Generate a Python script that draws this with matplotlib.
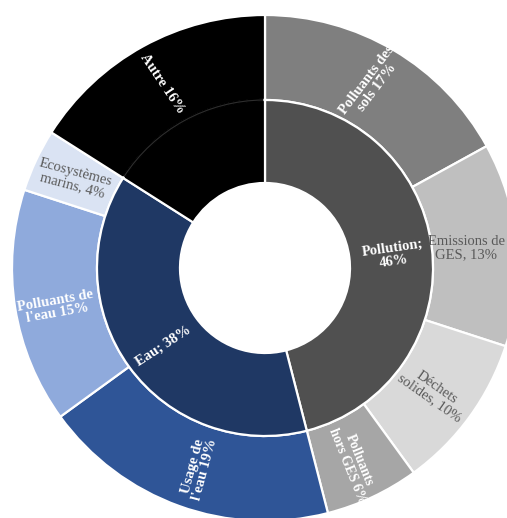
import matplotlib
matplotlib.use("Agg")
import matplotlib.pyplot as plt
from matplotlib.patches import Arc

# ---- data ----
inner_labels = ["Pollution", "Eau", "Autre"]
inner_values = [46, 38, 16]
outer_labels = ["Polluants des\nsols", "Emissions de\nGES,", "Déchets\nsolides,", "Polluants\nhors GES",
                "Usage de\nl'eau", "Polluants de\nl'eau", "Ecosystèmes\nmarins,", "Autre"]
outer_values = [17, 13, 10, 6, 19, 15, 4, 16]

inner_colors = ["#505050", "#1f3864", "#000000"]
outer_colors = ["#7f7f7f", "#bfbfbf", "#d9d9d9", "#a6a6a6",
                "#2f5597", "#8faadc", "#dae3f3", "#000000"]

W, H = 507, 518
CX, CY = 265, 268          # centre in pixels
R_OUT, R_MID, R_HOLE = 253, 168, 85

fig = plt.figure(figsize=(W / 100, H / 100), dpi=100)
ax = fig.add_axes([0, 0, 1, 1])

ax.pie(outer_values, radius=R_OUT, colors=outer_colors, startangle=90, counterclock=False,
       wedgeprops=dict(width=R_OUT - R_MID, edgecolor="white", linewidth=1.6))
ax.pie(inner_values, radius=R_MID, colors=inner_colors, startangle=90, counterclock=False,
       wedgeprops=dict(width=R_MID - R_HOLE, edgecolor="white", linewidth=1.6))

# dark boundary between inner and outer "Autre"
a0 = 90
a1 = 90 + 360 * inner_values[2] / sum(inner_values)
ax.add_patch(Arc((0, 0), 2 * R_MID, 2 * R_MID, theta1=a0 + 0.6, theta2=a1 - 0.6,
                 color="#000000", lw=2.6, zorder=5))
ax.add_patch(Arc((0, 0), 2 * R_MID, 2 * R_MID, theta1=a0 + 0.6, theta2=a1 - 0.6,
                 color="#2e2e2e", lw=0.8, zorder=5))

ax.set_xlim(-CX, W - CX)
ax.set_ylim(-(H - CY), CY)
ax.set_aspect("equal")
ax.axis("off")

serif = ["Liberation Serif", "DejaVu Serif"]
FS = 10.5

def px(x, y):
    return x - CX, CY - y

# outer labels: pixel position, rotation, colour, weight, size
outer_text = [f"{l} {v}%" for l, v in zip(outer_labels, outer_values)]
outer_style = [
    ((372, 84), 53, "white", "bold", FS),
    ((466, 248), 0, "#595959", "normal", FS),
    ((433, 393), -35, "#595959", "normal", FS),
    ((353, 463), -68, "white", "bold", 9.8),
    ((199, 468), 75, "white", "bold", FS),
    ((56, 307), 10, "white", "bold", FS),
    ((74, 179), -15, "#595959", "normal", FS),
    ((162, 84), -56, "white", "bold", FS),
]
for t, ((x, y), rot, c, w, fs) in zip(outer_text, outer_style):
    ax.text(*px(x, y), t, rotation=rot, color=c, fontweight=w, family=serif,
            fontsize=fs, ha="center", va="center", rotation_mode="anchor",
            linespacing=1.0, zorder=6)

inner_text = [f"{l};\n{v}%" if l == "Pollution" else f"{l}; {v}%" for l, v in zip(inner_labels, inner_values)]
inner_style = [
    ((393, 255), 8, "white", "bold"),
    ((163, 346), 33, "white", "bold"),
]
for t, ((x, y), rot, c, w) in zip(inner_text[:2], inner_style):
    ax.text(*px(x, y), t, rotation=rot, color=c, fontweight=w, family=serif,
            fontsize=FS, ha="center", va="center", rotation_mode="anchor",
            linespacing=1.0, zorder=6)

fig.savefig("out.png", dpi=100, facecolor="white")
